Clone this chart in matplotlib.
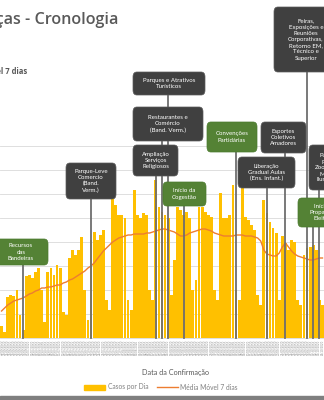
import datetime as dt
import matplotlib
matplotlib.use("Agg")
import matplotlib.pyplot as plt
from matplotlib.patches import FancyBboxPatch, Rectangle, Patch
from matplotlib.lines import Line2D
from matplotlib.transforms import blended_transform_factory

# Casos confirmados por dia
casos_dia = [60, 30, 205, 215, 210, 240, 115, 40, 310, 315,
             300, 330, 350, 240, 80, 330, 350, 315, 365, 350,
             130, 115, 400, 440, 415, 440, 505, 240, 90, 490,
             530, 490, 515, 540, 190, 140, 700, 665, 615, 615,
             600, 190, 140, 740, 615, 600, 625, 615, 240, 190,
             790, 655, 630, 615, 600, 215, 390, 655, 640, 615,
             630, 600, 240, 290, 655, 655, 630, 615, 605, 240,
             190, 725, 600, 600, 615, 765, 240, 190, 750, 605,
             590, 565, 540, 215, 165, 690, 625, 580, 550, 525,
             190, 510, 475, 440, 490, 480, 190, 165, 415, 450,
             455, 465, 440, 190, 165]

# Media movel de 7 dias
media_movel = [135, 150, 165, 175, 185, 190, 195, 200, 210, 220,
               225, 235, 240, 250, 250, 255, 255, 260, 265, 265,
               275, 280, 290, 295, 305, 315, 325, 335, 350, 360,
               375, 395, 415, 435, 450, 465, 480, 490, 500, 505,
               510, 515, 515, 520, 520, 520, 520, 525, 525, 530,
               535, 540, 545, 545, 540, 535, 530, 520, 510, 510,
               515, 525, 530, 535, 540, 545, 545, 540, 535, 525,
               520, 515, 510, 510, 510, 510, 515, 515, 515, 510,
               510, 510, 505, 500, 485, 440, 420, 415, 410, 410,
               425, 455, 475, 455, 435, 420, 410, 405, 400, 395,
               390, 390, 395, 400, 400]

inicio = dt.date(2020, 6, 22)
datas = [inicio + dt.timedelta(days=i) for i in range(len(casos_dia))]

# Marcos da flexibilizacao: texto, dia, tipo
eventos = [
    ("Recursos\ndas\nBandeiras", 7, "verde"),
    ("Parque-Leve\nComercio\n(Band.\nVerm.)", 29, "cinza"),
    ("Ampliação\nServiços\nReligiosos", 50, "cinza"),
    ("Restaurantes e\nComércio\n(Band. Verm.)", 52, "cinza"),
    ("Parques e Atrativos\nTurísticos", 54, "cinza"),
    ("Início da\nCogestão", 59, "verde"),
    ("Convenções\nPartidárias", 76, "verde"),
    ("Liberação\nGradual Aulas\n(Ens. Infant.)", 86, "cinza"),
    ("Esportes\nColetivos\nAmadores", 92, "cinza"),
    ("Feiras,\nExposições e\nReuniões\nCorporativas,\nRetorno EM,\nTécnico e\nSuperior", 99, "cinza"),
    ("Início da\nPropaganda\nEleitoral", 101, "verde"),
    ("Parques,\nPraias,\nZoológicos,\nMuseus,\nIluminação", 103, "cinza"),
]

# caixas em pixels: x0, y0, x1, y1
caixas = [
    (-6, 239, 48, 265),
    (66, 163, 116, 199),
    (133, 145, 178, 176),
    (133, 107, 203, 141),
    (133, 72, 205, 95),
    (163, 182, 206, 206),
    (207, 122, 257, 152),
    (238, 157, 295, 188),
    (261, 122, 306, 153),
    (274, 7, 338, 72),
    (298, 198, 352, 227),
    (309, 145, 352, 190),
]

cores = {"verde": "#548235", "cinza": "#404040"}
W, H = 324, 400


def fx(px):
    return px / W


def fy(py):
    return 1 - py / H


fig = plt.figure(figsize=(3.24, 4.0), dpi=100)
fig.patch.set_facecolor("white")

ax = fig.add_axes([0, fy(338), 1, fy(146) - fy(338)])
dias = list(range(len(casos_dia)))
ax.bar(dias, casos_dia, width=0.9, color="#FFC000", zorder=2)
ax.plot(dias, media_movel, color="#ED7D31", lw=1.0, zorder=4)

ax.set_xlim(-0.5, len(casos_dia) - 0.5)
ax.set_ylim(0, 960)
ax.set_yticks(range(0, 961, 120))
ax.set_yticklabels([])
ax.tick_params(axis="y", length=0)
ax.grid(axis="y", color="#D9D9D9", lw=0.6, zorder=0)
for s in ["top", "right", "left"]:
    ax.spines[s].set_visible(False)
ax.spines["bottom"].set_color("#D9D9D9")
ax.spines["bottom"].set_linewidth(0.6)

# datas bem pequenas na vertical, uma por dia
ax.set_xticks(dias)
ax.set_xticklabels([d.strftime("%d/%m/%Y") for d in datas],
                   fontsize=2.0, color="#8C8C8C", rotation=90)
ax.tick_params(axis="x", length=0, pad=1.5)

# linhas verticais dos marcos e caixas
trans = blended_transform_factory(ax.transData, fig.transFigure)
for (texto, dia, tipo), (x0, y0, x1, y1) in zip(eventos, caixas):
    ax.plot([dia, dia], [fy(338), fy(y1)], transform=trans, color="#6E6E6E",
            lw=1.3, clip_on=False, zorder=5)
    caixa = FancyBboxPatch((fx(x0), fy(y1)), fx(x1) - fx(x0), fy(y0) - fy(y1),
                           boxstyle="round,pad=0,rounding_size=0.012",
                           transform=fig.transFigure, fc=cores[tipo],
                           ec="#5A5A5A" if tipo == "cinza" else "#4A7A2E", lw=0.5)
    fig.patches.append(caixa)
    fig.text(fx((x0 + x1) / 2), fy((y0 + y1) / 2), texto, ha="center", va="center",
             color="white", fontsize=4.4, family="Lato", linespacing=1.3)

# titulos
fig.text(fx(118), fy(20), "Mudanças - Cronologia", ha="right", va="center",
         fontsize=11.6, fontweight="semibold", family="Open Sans", color="#595959")
fig.text(fx(27), fy(71), "Casos por Dia e Média Móvel 7 dias", ha="right", va="center",
         fontsize=5.5, fontweight="bold", family="Open Sans", color="#595959")

fig.text(fx(175), fy(373), "Data da Confirmação", ha="center", va="center",
         fontsize=5.2, family="Lato", color="#595959")

handles = [Patch(color="#FFC000", label="Casos por Dia"),
           Line2D([], [], color="#ED7D31", lw=1.0, label="Média Móvel 7 dias")]
fig.legend(handles=handles, loc="center", bbox_to_anchor=(fx(161), fy(387)),
           ncol=2, frameon=False, handlelength=3.2, handleheight=0.7,
           columnspacing=1.2, handletextpad=0.4, labelcolor="#7F7F7F",
           prop={"family": "Lato", "size": 4.8})

fig.patches.append(Rectangle((0, 0), 1, fy(396), transform=fig.transFigure,
                             color="#7F7F7F"))

plt.savefig("out.png", dpi=100)
